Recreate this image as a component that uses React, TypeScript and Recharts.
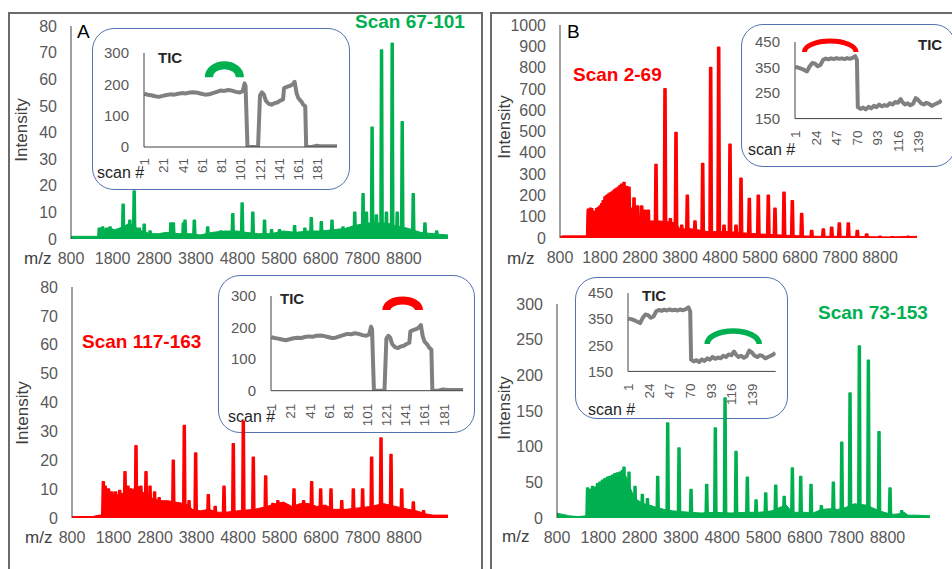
import React from 'react';
import { ComposedChart, Area, XAxis, YAxis, LineChart, Line, ReferenceDot } from 'recharts';

const FONT = '"Liberation Sans", Arial, sans-serif';
const GREEN = '#00b050';
const RED = '#ff0000';
const TICK_GRAY = '#595959';
const DARK = '#262626';

// ---------- data ----------
const MZ_TICKS = [800, 1800, 2800, 3800, 4800, 5800, 6800, 7800, 8800];
const Y_TICKS_80 = [0, 10, 20, 30, 40, 50, 60, 70, 80];
const Y_TICKS_1000 = [0, 100, 200, 300, 400, 500, 600, 700, 800, 900, 1000];
const Y_TICKS_300 = [0, 50, 100, 150, 200, 250, 300];

// Panel A (scan 67-101) spectrum: [m/z, intensity]
const A_ENV = [[800,1],[1000,1],[1200,1],[1460,1],[1475,4],[1550,4],[1650,3.5],[1750,4],[1850,3.5],[1950,4],[2100,5],[2200,6],[2400,4],[2500,3],[2700,2],[2900,2],[3100,2.5],[3400,2],[3700,2],[3900,1.5],[4200,2.5],[4500,3],[4800,3],[5000,2.5],[5300,2],[5600,2],[5900,3],[6200,2.5],[6500,3],[6800,3],[7100,3.5],[7400,4],[7600,5],[7900,6],[8200,6],[8400,6],[8600,5],[8900,4],[9200,2.5],[9500,2],[9860,1.5]];
const A_PEAKS = [[1480,4],[1560,4.5],[1660,4],[1740,4.5],[2053,13],[2214,7],[2318,18],[2440,4],[2559,5.5],[2700,3],[3200,6],[3260,6],[3500,6],[3540,7],[3764,7],[4084,4.5],[4400,3],[4687,9.5],[4913,13.5],[5169,10],[5451,7],[5620,3.5],[5812,3.5],[6173,5],[6420,4],[6575,8],[6816,6.5],[7072,7],[7337,4.5],[7619,10],[7819,17],[7900,10],[8036,42],[8140,9],[8263,71],[8380,10],[8519,73.5],[8640,10],[8760,44],[9025,17],[9306,6],[9588,3]];

// Panel B (scan 2-69)
const B_ENV = [[800,5],[850,10],[1470,10],[1483,125],[1550,130],[1650,115],[1750,135],[1850,150],[1950,180],[2050,195],[2150,210],[2250,225],[2350,230],[2450,215],[2550,150],[2650,120],[2750,100],[2850,90],[2950,85],[3050,80],[3300,80],[3550,75],[3700,70],[3800,40],[4000,45],[4200,40],[4500,30],[5000,30],[5300,25],[5700,20],[6200,15],[6800,10],[7200,8],[8000,8],[8500,6],[9000,5],[9725,8]];
const B_PEAKS = [[1508,135],[1560,140],[1592,137],[1640,125],[1675,122],[1720,138],[1758,142],[1800,150],[1842,160],[1880,175],[1925,192],[1965,198],[2008,205],[2050,210],[2092,215],[2135,220],[2175,228],[2215,232],[2258,238],[2300,245],[2342,252],[2400,260],[2467,242],[2525,238],[2650,188],[2740,150],[2842,150],[2920,130],[3008,130],[3200,345],[3425,700],[3560,90],[3700,495],[3842,60],[3983,200],[4175,80],[4367,350],[4567,800],[4767,895],[4900,60],[5050,440],[5200,60],[5325,280],[5533,185],[5758,200],[6008,200],[6175,140],[6400,215],[6608,175],[6842,115],[7092,35],[7383,42],[7592,50],[7783,70],[8008,70],[8233,35],[8467,18],[8800,8],[9100,6],[9500,8]];

// Panel C (scan 117-163)
const C_ENV = [[800,0.5],[1300,0.5],[1450,1],[1530,1],[1540,11],[1600,11],[1700,9],[1800,8],[1900,8],[2000,8.5],[2100,9],[2200,10],[2300,10],[2400,11],[2500,9],[2600,8],[2700,7],[2800,6.5],[2900,6],[3000,6],[3100,6],[3300,5.5],[3500,5],[3600,4.5],[3700,3],[3900,2.5],[4100,3],[4300,2],[4500,2],[4800,2.5],[5200,3],[5500,4],[5700,5],[5900,5.5],[6100,4],[6300,5],[6500,5],[6700,4],[6900,4.5],[7100,3],[7400,3],[7700,3.5],[8000,4],[8300,5],[8600,4],[8900,3],[9100,2.5],[9300,1.5],[9500,1],[9860,1]];
const C_PEAKS = [[1555,12.5],[1600,11],[1680,10],[1760,9],[1850,9],[1950,9.5],[2077,16],[2150,11],[2210,10],[2342,25],[2460,11],[2583,16],[2680,11],[2790,9],[2900,7],[3241,20],[3506,32],[3620,6],[3780,22.5],[4085,8],[4250,4],[4463,11],[4687,25.7],[4928,33.5],[5169,21],[5467,14.5],[5640,5],[5760,6],[6149,10],[6380,6],[6575,12.5],[6792,10],[7041,10],[7300,6],[7579,10],[7803,10],[8020,21],[8246,27.7],[8487,22],[8745,10],[9025,5.5],[9270,2.5]];

// Panel D (scan 73-153)
const D_ENV = [[800,7],[850,6],[950,5],[1100,3],[1300,2],[1500,3],[1530,3],[1535,40],[1600,40],[1700,42],[1800,45],[1900,48],[2000,52],[2100,55],[2200,58],[2300,60],[2400,62],[2480,58],[2550,45],[2650,32],[2750,25],[2900,20],[3050,18],[3200,15],[3400,12],[3600,10],[3800,9],[4000,8],[4300,7],[4600,8],[5000,7],[5400,8],[5700,8],[6000,10],[6200,15],[6350,18],[6500,8],[6800,8],[7000,7],[7200,12],[7400,13],[7600,12],[7800,15],[8000,20],[8300,18],[8600,10],[8900,5],[9100,6],[9200,8],[9300,4],[9500,4],[9830,3]];
const D_PEAKS = [[1540,42],[1600,40],[1660,44],[1720,43],[1780,48],[1840,50],[1900,53],[1960,55],[2020,57],[2080,58],[2140,60],[2200,62],[2260,63],[2320,64],[2380,66],[2422,71],[2543,64],[2689,44],[2866,33],[2990,27],[3238,58],[3480,133],[3754,98],[4045,40],[4424,47],[4633,126],[4868,168],[5134,93],[5408,57],[5620,25],[5853,35],[6095,46],[6300,30],[6498,70],[6700,58],[6950,47],[7200,17],[7490,50],[7694,106],[7894,175],[8120,241],[8338,221],[8596,121],[8862,42],[9145,10]];

// TIC insets: [scan #, TIC]
const TIC_A_TICKS = [1, 21, 41, 61, 81, 101, 121, 141, 161, 181];
const TIC_A_YTICKS = [0, 100, 200, 300];
const TIC_A = [[1,170],[4,167],[8,165],[12,162],[16,160],[20,163],[24,166],[28,168],[32,167],[36,170],[40,172],[44,171],[48,174],[52,175],[56,173],[60,170],[64,167],[68,168],[72,172],[76,176],[80,180],[84,179],[88,182],[92,180],[96,176],[100,174],[103,178],[105,203],[106,195],[108,0],[114,0],[119,0],[121,165],[123,174],[125,168],[127,148],[130,138],[133,135],[136,140],[139,142],[142,148],[145,152],[146,188],[149,192],[152,195],[155,200],[157,208],[159,172],[161,155],[164,145],[166,135],[168,130],[169,0],[175,0],[180,4],[185,2],[190,2],[195,2],[201,2]];

const TIC_B_TICKS = [1, 24, 47, 70, 93, 116, 139];
const TIC_B_YTICKS = [150, 250, 350, 450];
const TIC_B = [[1,352],[4,350],[8,345],[11,340],[14,335],[17,355],[20,368],[23,365],[26,355],[29,360],[32,380],[35,385],[38,382],[41,386],[44,383],[47,387],[50,384],[53,386],[56,383],[59,387],[62,384],[65,388],[68,395],[70,380],[71,195],[74,188],[77,193],[80,186],[83,196],[86,190],[89,200],[92,195],[95,205],[98,198],[101,203],[104,200],[107,210],[110,205],[113,215],[116,212],[119,226],[121,215],[124,205],[127,210],[130,202],[133,208],[136,230],[139,222],[142,210],[145,205],[148,212],[151,208],[154,200],[157,205],[160,210],[163,215],[165,222]];

// ---------- helpers ----------
const toPts = (arr: number[][]) => arr.map(([mz, v]) => ({ mz, v }));
const spikes = (peaks: number[][], hw: number) => {
  const out: { mz: number; v: number }[] = [];
  peaks.forEach(([mz, v]) => {
    out.push({ mz: mz - hw, v: 0 }, { mz: mz - hw * 0.6, v }, { mz: mz + hw * 0.6, v }, { mz: mz + hw, v: 0 });
  });
  return out;
};
const toTic = (arr: number[][]) => arr.map(([s, v]) => ({ s, v }));

const Txt = ({ x, cy, size, color = DARK, bold = false, children }: any) => (
  <div style={{ position: 'absolute', left: x, top: cy - size * 0.6, fontSize: size, lineHeight: `${size * 1.2}px`, color, fontWeight: bold ? 700 : 400, fontFamily: FONT, whiteSpace: 'nowrap' }}>{children}</div>
);

const VTxt = ({ cx, cy, size, color = '#404040', children }: any) => (
  <div style={{ position: 'absolute', left: cx, top: cy, fontSize: size, lineHeight: `${size * 1.2}px`, color, fontFamily: FONT, whiteSpace: 'nowrap', transform: 'translate(-50%, -50%) rotate(-90deg)' }}>{children}</div>
);

function MainChart({ left, top, width, height, env, peaks, hw, color, xMax, yMax, yTicks }: any) {
  return (
    <div style={{ position: 'absolute', left, top }}>
      <ComposedChart width={width} height={height} margin={{ top: 10, right: 5, bottom: 0, left: 0 }}>
        <XAxis dataKey="mz" type="number" domain={[800, xMax]} ticks={MZ_TICKS} interval={0} allowDataOverflow
          axisLine={false} tickLine={false} tickSize={0} tickMargin={14} height={30}
          tick={{ fontSize: 16, fill: TICK_GRAY, fontFamily: FONT }} />
        <YAxis type="number" domain={[0, yMax]} ticks={yTicks} interval={0} allowDataOverflow
          axisLine={{ stroke: '#404040', strokeWidth: 1 }} tickLine={false} tickSize={0} tickMargin={14} width={50}
          tick={{ fontSize: 16, fill: TICK_GRAY, fontFamily: FONT }} />
        <Area data={toPts(env)} dataKey="v" type="linear" stroke={color} strokeWidth={1} fill={color} fillOpacity={1} isAnimationActive={false} dot={false} activeDot={false} />
        <Area data={spikes(peaks, hw)} dataKey="v" type="linear" stroke={color} strokeWidth={1.6} strokeLinejoin="round" fill={color} fillOpacity={1} isAnimationActive={false} dot={false} activeDot={false} />
      </ComposedChart>
    </div>
  );
}

const RotTick = ({ x, y, payload, gap, fs }: any) => (
  <text x={x} y={y + gap} transform={`rotate(-90 ${x} ${y + gap})`} textAnchor="end" dy="0.35em" fontSize={fs} fill={TICK_GRAY} fontFamily={FONT}>{payload.value}</text>
);

const arcShape = (rx: number, ry: number, color: string, sw: number) => (p: any) => (
  <path d={`M ${p.cx - rx} ${p.cy} A ${rx} ${ry} 0 0 1 ${p.cx + rx} ${p.cy}`} fill="none" stroke={color} strokeWidth={sw} />
);

function Inset({ left, top, width, height, data, xDomain, xTicks, yDomain, yTicks, arc, gap }: any) {
  return (
    <div style={{ position: 'absolute', left, top }}>
      <LineChart width={width} height={height} data={toTic(data)} margin={{ top: 10, right: 2, bottom: 0, left: 0 }}>
        <XAxis dataKey="s" type="number" domain={xDomain} ticks={xTicks} interval={0} allowDataOverflow
          axisLine={{ stroke: '#404040' }} tickLine={false} tickSize={0} tickMargin={0} height={40}
          tick={(p: any) => <RotTick {...p} gap={gap} fs={13.5} />} />
        <YAxis type="number" domain={yDomain} ticks={yTicks} interval={0} allowDataOverflow
          axisLine={{ stroke: '#404040' }} tickLine={false} tickSize={0} tickMargin={15} width={40}
          tick={{ fontSize: 15, fill: TICK_GRAY, fontFamily: FONT }} />
        <Line dataKey="v" type="linear" stroke="#808080" strokeWidth={4} strokeLinejoin="round" dot={false} activeDot={false} isAnimationActive={false} />
        <ReferenceDot x={arc.x} y={arc.y} ifOverflow="visible" shape={arcShape(arc.rx, arc.ry, arc.color, arc.sw)} />
      </LineChart>
    </div>
  );
}

const Frame = ({ left, top, width, height }: any) => (
  <div style={{ position: 'absolute', left, top, width, height, boxSizing: 'border-box', border: '1.3px solid #5573b0', borderRadius: 22, background: '#fff' }} />
);

export default function App() {
  return (
    <div style={{ position: 'absolute', left: 0, top: 0, width: 952, height: 569, overflow: 'hidden', background: '#fff', fontFamily: FONT }}>
      {/* panel boxes */}
      <div style={{ position: 'absolute', left: 8, top: 12, width: 475, height: 620, boxSizing: 'border-box', border: '2.5px solid #6b6b6b' }} />
      <div style={{ position: 'absolute', left: 490, top: 12, width: 520, height: 620, boxSizing: 'border-box', border: '2.5px solid #6b6b6b' }} />

      {/* insets (behind spectra) */}
      <Frame left={92} top={28} width={258} height={162} />
      <Inset left={104} top={43} width={235} height={144} data={TIC_A} xDomain={[0.5, 201]} xTicks={TIC_A_TICKS} yDomain={[0, 300]} yTicks={TIC_A_YTICKS} gap={11}
        arc={{ x: 84, y: 223, rx: 15.5, ry: 12, sw: 8, color: GREEN }} />
      <Txt x={158} cy={58} size={15} bold>TIC</Txt>
      <Txt x={97} cy={173} size={16}>scan #</Txt>

      <Frame left={741} top={24} width={215} height={143} />
      <Inset left={755} top={31.7} width={189} height={126.6} data={TIC_B} xDomain={[0.5, 165.5]} xTicks={TIC_B_TICKS} yDomain={[150, 450]} yTicks={TIC_B_YTICKS} gap={12}
        arc={{ x: 40, y: 411, rx: 25.8, ry: 10.9, sw: 5, color: RED }} />
      <Txt x={918} cy={45} size={15} bold>TIC</Txt>
      <Txt x={748} cy={150} size={16}>scan #</Txt>

      <Frame left={218} top={275} width={257} height={158} />
      <Inset left={231} top={286} width={234} height={144.7} data={TIC_A} xDomain={[0.5, 201]} xTicks={TIC_A_TICKS} yDomain={[0, 300]} yTicks={TIC_A_YTICKS} gap={13}
        arc={{ x: 138, y: 256, rx: 16.3, ry: 9.5, sw: 8, color: RED }} />
      <Txt x={280} cy={299} size={15} bold>TIC</Txt>
      <Txt x={228} cy={417} size={16}>scan #</Txt>

      <Frame left={575} top={277} width={213} height={142} />
      <Inset left={588.3} top={283.3} width={189.7} height={128.4} data={TIC_B} xDomain={[0.5, 165.5]} xTicks={TIC_B_TICKS} yDomain={[150, 450]} yTicks={TIC_B_YTICKS} gap={12}
        arc={{ x: 118, y: 255, rx: 26, ry: 13, sw: 5.5, color: GREEN }} />
      <Txt x={642} cy={296} size={15} bold>TIC</Txt>
      <Txt x={588} cy={410} size={16}>scan #</Txt>

      {/* spectra */}
      <MainChart left={21} top={16} width={432} height={253} env={A_ENV} peaks={A_PEAKS} hw={38} color={GREEN} xMax={9860} yMax={80} yTicks={Y_TICKS_80} />
      <MainChart left={510} top={15} width={412} height={253} env={B_ENV} peaks={B_PEAKS} hw={42} color={RED} xMax={9725} yMax={1000} yTicks={Y_TICKS_1000} />
      <MainChart left={22} top={277} width={431} height={271} env={C_ENV} peaks={C_PEAKS} hw={38} color={RED} xMax={9860} yMax={80} yTicks={Y_TICKS_80} />
      <MainChart left={507} top={294} width={428} height={254} env={D_ENV} peaks={D_PEAKS} hw={38} color={GREEN} xMax={9830} yMax={300} yTicks={Y_TICKS_300} />

      {/* labels */}
      <Txt x={77} cy={32} size={19} color="#000">A</Txt>
      <Txt x={567} cy={32} size={19} color="#000">B</Txt>
      <Txt x={355} cy={22} size={19} color={GREEN} bold>Scan 67-101</Txt>
      <Txt x={573} cy={75} size={19} color={RED} bold>Scan 2-69</Txt>
      <Txt x={82} cy={342} size={19} color={RED} bold>Scan 117-163</Txt>
      <Txt x={818} cy={313} size={19} color={GREEN} bold>Scan 73-153</Txt>

      <VTxt cx={22} cy={130} size={17}>Intensity</VTxt>
      <VTxt cx={505} cy={127} size={17}>Intensity</VTxt>
      <VTxt cx={23} cy={413} size={17}>Intensity</VTxt>
      <VTxt cx={505} cy={408} size={17}>Intensity</VTxt>

      <Txt x={24} cy={259} size={17} color="#404040">m/z</Txt>
      <Txt x={507} cy={259} size={17} color="#404040">m/z</Txt>
      <Txt x={25} cy={538} size={17} color="#404040">m/z</Txt>
      <Txt x={502} cy={537} size={17} color="#404040">m/z</Txt>
    </div>
  );
}
